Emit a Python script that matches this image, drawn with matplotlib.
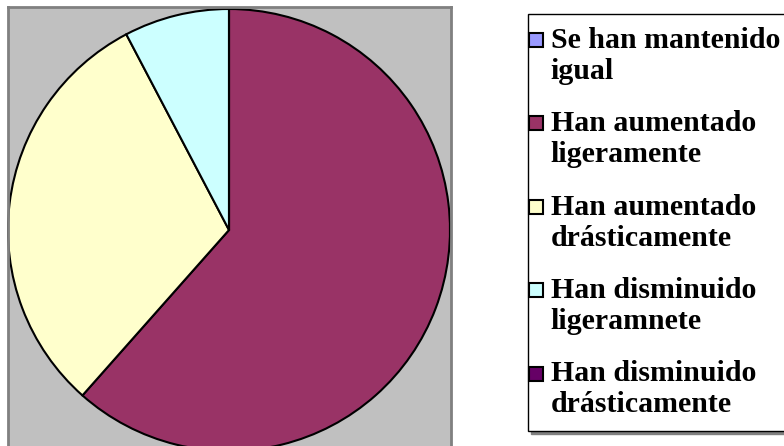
import matplotlib
matplotlib.use('Agg')
import matplotlib.pyplot as plt
from matplotlib.patches import Patch, Rectangle
from matplotlib.legend_handler import HandlerPatch

plt.rcParams['font.family'] = ['Liberation Serif', 'DejaVu Serif']

# datos
categorias = ['Se han mantenido\nigual', 'Han aumentado\nligeramente',
              'Han aumentado\ndrásticamente', 'Han disminuido\nligeramnete',
              'Han disminuido\ndrásticamente']
valores = [0, 8, 4, 1, 0]
colores = ['#9999FF', '#993366', '#FFFFCC', '#CCFFFF', '#660066']

W, H = 784, 446
fig = plt.figure(figsize=(W / 100, H / 100), dpi=100)

# área de trazado gris, en coordenadas de píxel
x0, x1, ytop, ybot = 8, 451, 7, 460
ax = fig.add_axes([x0 / W, (H - ybot) / H, (x1 - x0) / W, (ybot - ytop) / H])
ax.set_facecolor('#C0C0C0')
for s in ax.spines.values():
    s.set_color('#808080')
    s.set_linewidth(2)

wedges, _ = ax.pie(valores, colors=colores, startangle=90, counterclock=False,
                   center=(229, H - 230), radius=221, frame=True,
                   wedgeprops=dict(edgecolor='black', linewidth=1.5))
ax.set_xlim(x0, x1)
ax.set_ylim(H - ybot, H - ytop)
ax.set_xticks([])
ax.set_yticks([])

FS = 21.5


def cuadro(legend, orig_handle, xdescent, ydescent, width, height, fontsize):
    # el cuadro va a la izquierda y a la altura de la primera línea
    return Rectangle((-xdescent - 8.2, -ydescent + 0.57 * fontsize), 10, 10)


handles = [Patch(facecolor=c, edgecolor='black', linewidth=1.5) for c in colores]
leg = fig.legend(handles, categorias, loc='upper left',
                 bbox_to_anchor=(528 / W, 1 - 14 / H), borderaxespad=0,
                 prop=dict(family='Liberation Serif', weight='bold', size=FS),
                 handlelength=0.48, handleheight=0.48, handletextpad=-0.15,
                 labelspacing=0.85, borderpad=0.43, fancybox=False,
                 edgecolor='black', framealpha=1,
                 shadow={'facecolor': '#808080', 'edgecolor': '#808080', 'alpha': 1},
                 handler_map={Patch: HandlerPatch(patch_func=cuadro)})
leg.get_frame().set_linewidth(1)
for t in leg.get_texts():
    t.set_linespacing(1.19)

fig.savefig('out.png', dpi=100)
